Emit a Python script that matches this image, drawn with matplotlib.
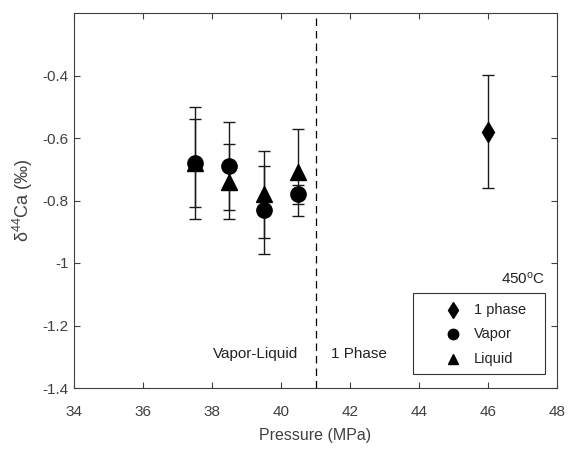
import numpy as np
import matplotlib.pyplot as plt
from matplotlib.patches import Rectangle

plt.rcParams['font.family'] = ['Liberation Sans', 'DejaVu Sans']

# data
p_1phase = [46.0]
d_1phase = [-0.58]
e_1phase = [0.18]

p_vapor = [37.5, 38.5, 39.5, 40.5]
d_vapor = [-0.68, -0.69, -0.83, -0.78]
e_vapor = [0.14, 0.14, 0.14, 0.03]

p_liquid = [37.5, 38.5, 39.5, 40.5]
d_liquid = [-0.68, -0.74, -0.78, -0.71]
e_liquid = [0.18, 0.12, 0.14, 0.14]

boundary = 41.0

legend_labels = ['1 phase', 'Vapor', 'Liquid']

axcol = '#404040'
txtcol = '#222222'
fig = plt.figure(figsize=(5.68, 4.5), dpi=100)
ax = fig.add_axes([74 / 568, 1 - 388 / 450, (557 - 74) / 568, (388 - 13) / 450])

ekw = dict(ecolor='#1a1a1a', elinewidth=1.0, capsize=4, capthick=1.0, linestyle='none')
ax.errorbar(p_1phase, d_1phase, yerr=e_1phase, marker='d', ms=10.5, color='k', **ekw)
ax.errorbar(p_vapor, d_vapor, yerr=e_vapor, marker='o', ms=11, color='k', **ekw)
ax.errorbar(p_liquid, d_liquid, yerr=e_liquid, marker='^', ms=11, color='k', **ekw)

ax.axvline(boundary, color='k', linestyle=(0, (6, 4)), linewidth=0.9)

ax.set_xlim(34, 48)
ax.set_ylim(-1.4, -0.2)
ax.set_xticks(np.arange(34, 49, 2))
ax.set_yticks([-1.4, -1.2, -1.0, -0.8, -0.6, -0.4])
ax.set_yticklabels(['-1.4', '-1.2', '-1', '-0.8', '-0.6', '-0.4'])
ax.tick_params(direction='in', top=True, right=True, length=4, width=0.8,
               colors=axcol, labelsize=11, labelcolor=axcol)
ax.tick_params(axis='x', pad=12)
ax.tick_params(axis='y', pad=4)
for s in ax.spines.values():
    s.set_color(axcol)
    s.set_linewidth(0.8)

ax.set_xlabel('Pressure (MPa)', fontsize=11.5, color=axcol, labelpad=7)
ax.set_ylabel(r'$\mathregular{\delta^{44}}$Ca (‰)', fontsize=13, color=axcol, labelpad=5)

ax.text(40.49, -1.29, 'Vapor-Liquid', ha='right', va='center', fontsize=11, color=txtcol)
ax.text(41.45, -1.29, '1 Phase', ha='left', va='center', fontsize=11, color=txtcol)
ax.text(47.65, -1.076, r'450$\mathregular{^o}$C', ha='right', va='bottom', fontsize=11,
        color=txtcol)

# MATLAB-style legend box, drawn in axes coordinates
tr = ax.transAxes
ax.add_patch(Rectangle((0.702, 0.037), 0.273, 0.216, transform=tr, fill=True,
                       facecolor='white', edgecolor='#333333', linewidth=0.8, zorder=5))
leg_markers = [('d', 8), ('o', 7.5), ('^', 7.5)]
leg_y = [0.208, 0.144, 0.077]
for (m, ms), yy, lab in zip(leg_markers, leg_y, legend_labels):
    ax.plot([0.785], [yy], marker=m, ms=ms, color='k', linestyle='none',
            transform=tr, zorder=6, clip_on=False)
    ax.text(0.828, yy, lab, transform=tr, ha='left', va='center', fontsize=10.5,
            color=txtcol, zorder=6)

fig.savefig('out.png', dpi=100)
